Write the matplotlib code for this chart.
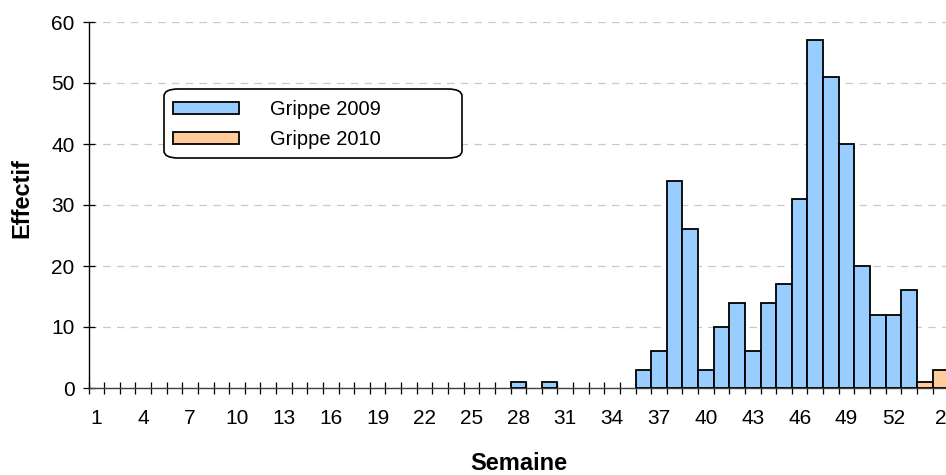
import matplotlib
matplotlib.use("Agg")
import matplotlib.pyplot as plt
from matplotlib.patches import FancyBboxPatch
import numpy as np

plt.rcParams['font.family'] = ['Liberation Sans', 'DejaVu Sans']

# Categories: 2009 weeks 1..53 followed by 2010 weeks 1..3
week_labels = ["1", "2", "3", "4", "5", "6", "7", "8", "9", "10",
               "11", "12", "13", "14", "15", "16", "17", "18", "19", "20",
               "21", "22", "23", "24", "25", "26", "27", "28", "29", "30",
               "31", "32", "33", "34", "35", "36", "37", "38", "39", "40",
               "41", "42", "43", "44", "45", "46", "47", "48", "49", "50",
               "51", "52", "53",
               "1", "2", "3"]

grippe_2009 = [0, 0, 0, 0, 0, 0, 0, 0, 0, 0,
               0, 0, 0, 0, 0, 0, 0, 0, 0, 0,
               0, 0, 0, 0, 0, 0, 0, 1, 0, 1,
               0, 0, 0, 0, 0, 3, 6, 34, 26, 3,
               10, 14, 6, 14, 17, 31, 57, 51, 40, 20,
               12, 12, 16,
               0, 0, 0]

grippe_2010 = [0, 0, 0, 0, 0, 0, 0, 0, 0, 0,
               0, 0, 0, 0, 0, 0, 0, 0, 0, 0,
               0, 0, 0, 0, 0, 0, 0, 0, 0, 0,
               0, 0, 0, 0, 0, 0, 0, 0, 0, 0,
               0, 0, 0, 0, 0, 0, 0, 0, 0, 0,
               0, 0, 0,
               1, 3, 0]

series_names = ["Grippe 2009", "Grippe 2010"]
colors = ["#99CCFF", "#FFCC99"]

W, H = 946, 475
fig = plt.figure(figsize=(W / 100, H / 100), dpi=100)

# axes geometry (pixels)
left_px, top_px, bottom_px = 88.5, 22, 388
cat_px = 15.63
n_cat = len(week_labels)
width_px = n_cat * cat_px
ax = fig.add_axes([left_px / W, 1 - bottom_px / H, width_px / W, (bottom_px - top_px) / H])

x = np.arange(1, n_cat + 1)
for vals, name, col in zip([grippe_2009, grippe_2010], series_names, colors):
    v = np.array(vals, dtype=float)
    v[v == 0] = np.nan
    ax.bar(x, v, width=1.0, color=col, edgecolor="black", linewidth=1.3,
           label=name, zorder=3)

ax.set_xlim(0.5, n_cat + 0.5)
ax.set_ylim(0, 60)
ax.set_yticks(np.arange(0, 61, 10))
ax.yaxis.grid(True, color="#C8C8C8", linestyle=(0, (6, 5)), linewidth=0.9, zorder=0)
ax.set_axisbelow(True)

# major ticks: labels every 3 categories (no tick mark)
ax.set_xticks(x[::3])
ax.set_xticklabels([week_labels[i - 1] for i in x[::3]])
ax.set_xticks(np.arange(0.5, n_cat + 1, 1.0), minor=True)
ax.tick_params(axis="x", which="major", length=0, pad=15, labelsize=15)
ax.tick_params(axis="x", which="minor", direction="inout", length=9, width=0.9)
ax.tick_params(axis="y", direction="inout", length=8, width=0.9, labelsize=15, pad=6)

for s in ["top", "right"]:
    ax.spines[s].set_visible(False)
ax.spines["left"].set_linewidth(1.0)
ax.spines["bottom"].set_linewidth(1.0)
ax.spines["bottom"].set_color("#404040")

fig.text(22 / W, 1 - 198 / H, "Effectif", rotation=90, ha="center", va="center",
         fontsize=17, fontweight="bold")
fig.text(519 / W, 1 - 463 / H, "Semaine", ha="center", va="center",
         fontsize=17, fontweight="bold")

# legend box (rounded frame drawn separately, beneath the legend entries)
box = FancyBboxPatch((164 / W, 1 - 158 / H), (462 - 164) / W, (158 - 89) / H,
                     boxstyle="round,pad=0,rounding_size=0.015",
                     transform=fig.transFigure, facecolor="white",
                     edgecolor="black", linewidth=1.2, zorder=4, clip_on=False)
ax.add_patch(box)

fs = 14.5
fs_px = fs * 100 / 72
ax_h = bottom_px - top_px
leg = ax.legend(loc="upper left",
                bbox_to_anchor=((173 - left_px) / width_px, (bottom_px - 100) / ax_h),
                borderaxespad=0, borderpad=0, fontsize=fs, frameon=False,
                handlelength=66 / fs_px, handleheight=10 / fs_px,
                handletextpad=31 / fs_px, labelspacing=11 / fs_px)
leg.set_zorder(5)

fig.savefig("out.png", dpi=100)
